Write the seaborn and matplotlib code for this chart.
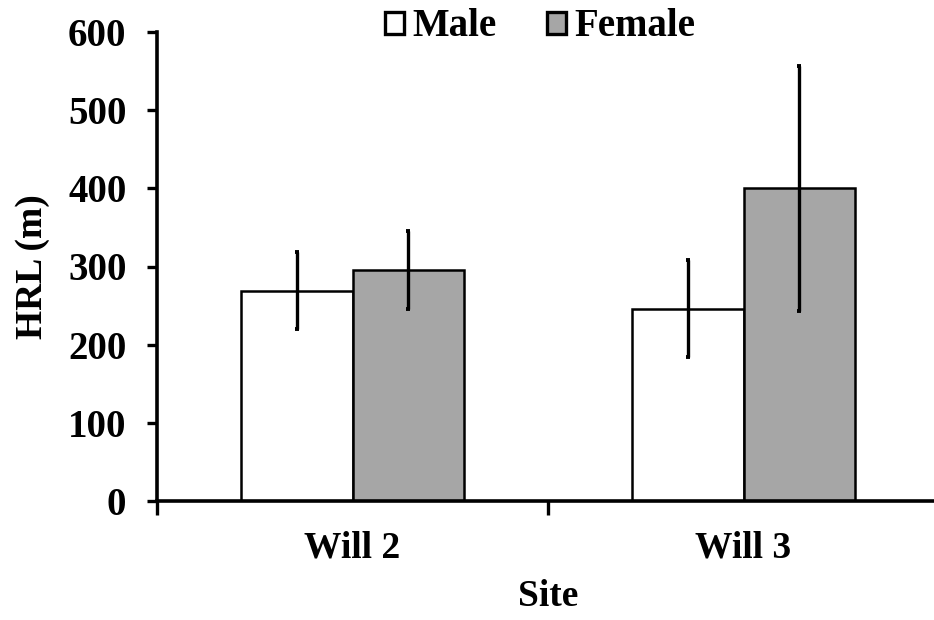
import matplotlib
matplotlib.use("Agg")
import matplotlib.pyplot as plt
import seaborn as sns
import pandas as pd
from matplotlib.patches import Patch

sites = ["Will 2", "Will 3"]
sexes = ["Male", "Female"]
male_hrl = [269, 246]
female_hrl = [296, 400]
male_err = [49, 62]
female_err = [50, 157]
colors = {"Male": "#FFFFFF", "Female": "#A6A6A6"}

df = pd.DataFrame({
    "Site": sites * 2,
    "Sex": ["Male"] * 2 + ["Female"] * 2,
    "HRL": male_hrl + female_hrl,
    "err": male_err + female_err,
})

sns.set_style("white")
plt.rcParams["font.family"] = ["Liberation Serif", "DejaVu Serif"]
plt.rcParams["font.weight"] = "bold"
for k in ["text.color", "axes.labelcolor", "xtick.color", "ytick.color", "axes.edgecolor"]:
    plt.rcParams[k] = "black"

fig = plt.figure(figsize=(9.34, 6.2), dpi=100)
ax = fig.add_axes([157/934, 1 - 501/620, (939 - 157)/934, (501 - 32)/620])

sns.barplot(data=df, x="Site", y="HRL", hue="Sex", order=sites, hue_order=sexes,
            palette=colors, width=0.57, errorbar=None, edgecolor="black",
            linewidth=1.8, ax=ax, legend=False, saturation=1)

# error bars placed at bar centers
for sex, cont in zip(sexes, ax.containers):
    sub = df[df["Sex"] == sex].set_index("Site").loc[sites]
    xs = [p.get_x() + p.get_width() / 2 for p in cont.patches]
    ax.errorbar(xs, sub["HRL"], yerr=sub["err"], fmt="none", ecolor="black",
                elinewidth=2.4, capsize=1.3, capthick=2.8, zorder=5)

ax.set_ylim(0, 600)
ax.set_xlim(-0.5, 1.5)
ax.set_yticks(range(0, 601, 100))
ax.set_xticks([0, 1])
ax.set_xticks([-0.5, 0.5, 1.5], minor=True)
ax.tick_params(axis="x", which="major", bottom=True, length=0, labelsize=27, pad=21)
ax.tick_params(axis="x", which="minor", bottom=True, length=10, width=2.4, direction="out", color="black")
ax.tick_params(axis="y", left=True, length=7, width=2.4, direction="out", labelsize=28, pad=15, color="black")
for lbl in ax.get_xticklabels() + ax.get_yticklabels():
    lbl.set_fontweight("bold")

sns.despine(ax=ax, top=True, right=True)
for side in ["left", "bottom"]:
    ax.spines[side].set_linewidth(2.6)
    ax.spines[side].set_color("black")

ax.set_xlabel("Site", fontsize=27, fontweight="bold")
ax.set_ylabel("HRL (m)", fontsize=27, fontweight="bold")
ax.xaxis.set_label_coords((548 - 157) / 782, (501 - 596) / 469)
ax.xaxis.label.set_va("center")
ax.yaxis.set_label_coords((32 - 157) / 782, 0.5)
ax.yaxis.label.set_va("center")

handles = [Patch(facecolor=colors[s], edgecolor="black", linewidth=2.4, label=s) for s in sexes]
fig.legend(handles=handles, loc="center", bbox_to_anchor=(540/934, 1 - 27/620),
           ncol=2, frameon=False, prop={"family": "Liberation Serif", "weight": "bold", "size": 28},
           handlelength=0.5, handleheight=0.5, handletextpad=0.2, columnspacing=1.3,
           borderaxespad=0)

fig.savefig("out.png", dpi=100)
